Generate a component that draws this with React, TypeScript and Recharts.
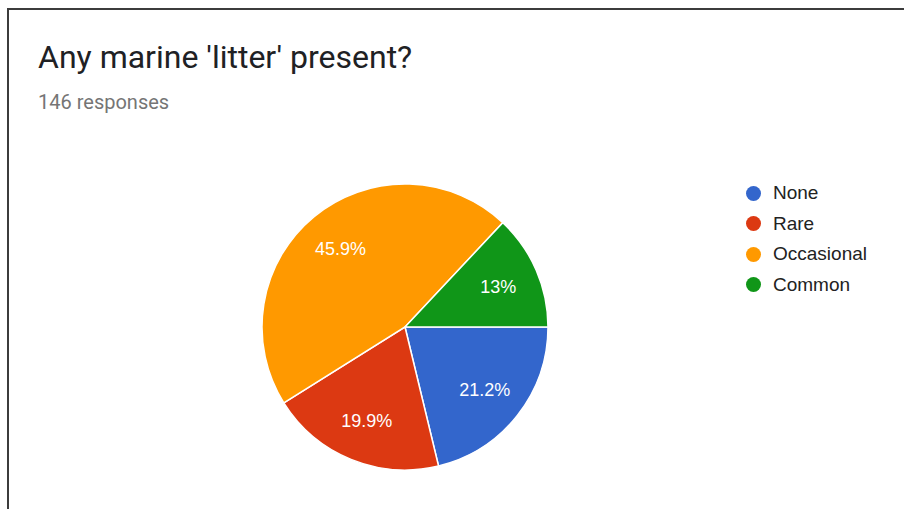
import { PieChart, Pie, Cell, Legend } from 'recharts';

const categories = ['None', 'Rare', 'Occasional', 'Common'];
const responses = [31, 29, 67, 19];
const percentLabels = ['21.2%', '19.9%', '45.9%', '13%'];
const colors = ['#3366cc', '#dc3912', '#ff9900', '#109618'];

const data = categories.map((name, i) => ({
  name,
  value: responses[i],
  pct: percentLabels[i],
}));

const RADIAN = Math.PI / 180;

function renderLabel(props: any) {
  const { cx, cy, midAngle, outerRadius, index } = props;
  const r = outerRadius * 0.71;
  const x = cx + r * Math.cos(-midAngle * RADIAN);
  const y = cy + r * Math.sin(-midAngle * RADIAN);
  return (
    <text
      x={x}
      y={y}
      fill="#ffffff"
      textAnchor="middle"
      dominantBaseline="central"
      style={{ fontFamily: 'Arial, "Liberation Sans", sans-serif', fontSize: 18 }}
    >
      {data[index].pct}
    </text>
  );
}

function renderLegend() {
  return (
    <div style={{ fontFamily: 'Arial, "Liberation Sans", sans-serif', fontSize: 19, color: '#222222' }}>
      {data.map((d, i) => (
        <div key={d.name} style={{ display: 'flex', alignItems: 'center', height: 30.5 }}>
          <span
            style={{
              display: 'inline-block',
              width: 15,
              height: 15,
              borderRadius: '50%',
              background: colors[i],
              marginRight: 12,
            }}
          />
          <span>{d.name}</span>
        </div>
      ))}
    </div>
  );
}

export default function App() {
  return (
    <div style={{ position: 'absolute', left: 0, top: 0, width: 904, height: 509, overflow: 'hidden', background: '#ffffff' }}>
      <div
        style={{
          position: 'absolute',
          left: 7,
          top: 8,
          width: 920,
          height: 520,
          borderTop: '2px solid #3c3c3c',
          borderLeft: '2px solid #3c3c3c',
        }}
      />
      <div
        style={{
          position: 'absolute',
          left: 38,
          top: 41,
          fontFamily: 'Roboto, sans-serif',
          fontSize: 32,
          lineHeight: '32px',
          color: '#202124',
          whiteSpace: 'nowrap',
        }}
      >
        Any marine 'litter' present?
      </div>
      <div
        style={{
          position: 'absolute',
          left: 38,
          top: 92,
          fontFamily: 'Roboto, sans-serif',
          fontSize: 20,
          lineHeight: '20px',
          color: '#757575',
          whiteSpace: 'nowrap',
        }}
      >
        146 responses
      </div>
      <div style={{ position: 'absolute', left: 0, top: 0 }}>
        <PieChart width={904} height={509} margin={{ top: 0, right: 0, bottom: 0, left: 0 }}>
          <Pie
            data={data}
            dataKey="value"
            nameKey="name"
            cx={405}
            cy={327}
            outerRadius={143}
            startAngle={0}
            endAngle={-360}
            stroke="#ffffff"
            strokeWidth={1.5}
            label={renderLabel}
            labelLine={false}
            isAnimationActive={false}
          >
            {data.map((d, i) => (
              <Cell key={d.name} fill={colors[i]} />
            ))}
          </Pie>
          <Legend
            content={renderLegend}
            layout="vertical"
            wrapperStyle={{ position: 'absolute', left: 746, top: 178, width: 150 }}
          />
        </PieChart>
      </div>
    </div>
  );
}
